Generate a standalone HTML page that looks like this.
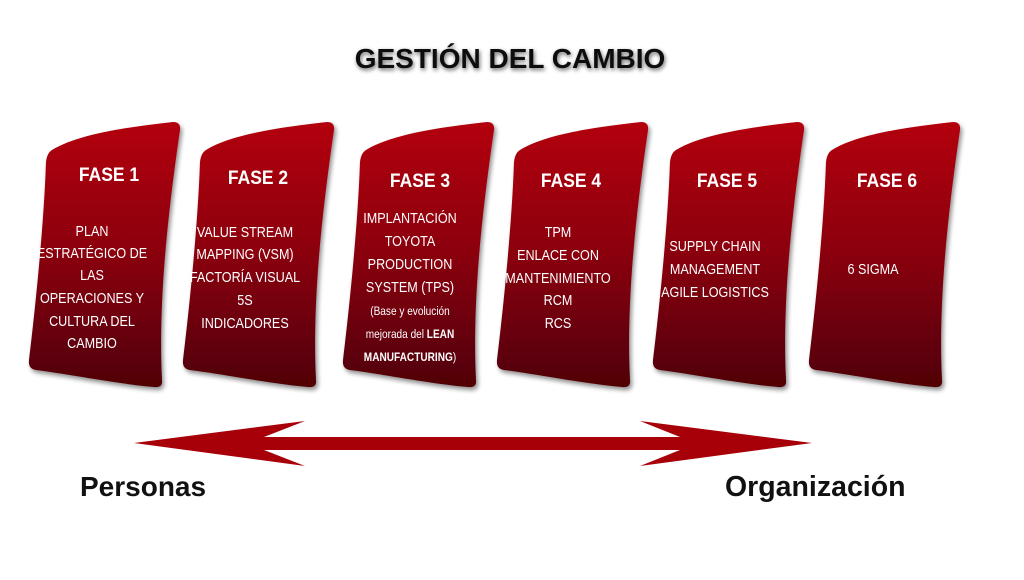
<!DOCTYPE html>
<html><head><meta charset="utf-8"><style>
html,body{margin:0;padding:0;background:#fff;}
svg{display:block;font-family:"Liberation Sans",sans-serif;}
.h{font-weight:bold;font-size:19px;fill:#fff;text-anchor:middle;}
.b{font-size:15px;fill:#fff;text-anchor:middle;}
.s{font-size:12px;fill:#fff;text-anchor:middle;}
</style></head><body>
<svg width="1024" height="580" viewBox="0 0 1024 580">
<defs>
<linearGradient id="g" x1="0" y1="0" x2="0" y2="1">
<stop offset="0" stop-color="#b3000f"/><stop offset="0.5" stop-color="#8a000c"/><stop offset="1" stop-color="#500006"/>
</linearGradient>
<filter id="sh" x="-10%" y="-10%" width="130%" height="130%"><feGaussianBlur in="SourceAlpha" stdDeviation="2.5"/><feOffset dx="2" dy="3"/><feComponentTransfer><feFuncA type="linear" slope="0.45"/></feComponentTransfer><feMerge><feMergeNode/><feMergeNode in="SourceGraphic"/></feMerge></filter>
<filter id="ts"><feGaussianBlur in="SourceAlpha" stdDeviation="2"/><feOffset dx="1" dy="2"/><feComponentTransfer><feFuncA type="linear" slope="0.6"/></feComponentTransfer><feMerge><feMergeNode/><feMergeNode in="SourceGraphic"/></feMerge></filter>
<path id="c" d="M 24,28 C 50,12 100,5 145,0 Q 153,0 152,8 C 140,90 130,180 134,258 Q 135,266 126,265 C 90,262 40,252 8,248 Q 0,247 1,238 C 8,180 16,100 18,40 Q 19,31 24,28 Z"/>
</defs>
<text x="510" y="68" font-size="28" font-weight="bold" text-anchor="middle" fill="#111" filter="url(#ts)">GESTIÓN DEL CAMBIO</text>
<g fill="url(#g)" filter="url(#sh)">
<use href="#c" x="28" y="122"/>
<use href="#c" x="182" y="122"/>
<use href="#c" x="342" y="122"/>
<use href="#c" x="496" y="122"/>
<use href="#c" x="652" y="122"/>
<use href="#c" x="808" y="122"/>
</g>
<g transform="translate(109,0) scale(0.92,1)"><text class="h" x="0" y="181">FASE 1</text></g>
<g transform="translate(92,0) scale(0.84,1)"><text class="b"><tspan x="0" y="236">PLAN</tspan><tspan x="0" y="258">ESTRATÉGICO DE</tspan><tspan x="0" y="280">LAS</tspan><tspan x="0" y="303">OPERACIONES Y</tspan><tspan x="0" y="326">CULTURA DEL</tspan><tspan x="0" y="348">CAMBIO</tspan></text></g>
<g transform="translate(258,0) scale(0.92,1)"><text class="h" x="0" y="184">FASE 2</text></g>
<g transform="translate(245,0) scale(0.84,1)"><text class="b"><tspan x="0" y="237">VALUE STREAM</tspan><tspan x="0" y="259">MAPPING (VSM)</tspan><tspan x="0" y="282">FACTORÍA VISUAL</tspan><tspan x="0" y="305">5S</tspan><tspan x="0" y="328">INDICADORES</tspan></text></g>
<g transform="translate(420,0) scale(0.92,1)"><text class="h" x="0" y="187">FASE 3</text></g>
<g transform="translate(410,0) scale(0.84,1)"><text class="b"><tspan x="0" y="223">IMPLANTACIÓN</tspan><tspan x="0" y="246">TOYOTA</tspan><tspan x="0" y="269">PRODUCTION</tspan><tspan x="0" y="292">SYSTEM (TPS)</tspan></text>
<text class="s"><tspan x="0" y="315">(Base y evolución</tspan><tspan x="0" y="338">mejorada del <tspan font-weight="bold">LEAN</tspan></tspan><tspan x="0" y="361"><tspan font-weight="bold">MANUFACTURING</tspan>)</tspan></text></g>
<g transform="translate(571,0) scale(0.92,1)"><text class="h" x="0" y="187">FASE 4</text></g>
<g transform="translate(558,0) scale(0.84,1)"><text class="b"><tspan x="0" y="237">TPM</tspan><tspan x="0" y="260">ENLACE CON</tspan><tspan x="0" y="283">MANTENIMIENTO</tspan><tspan x="0" y="305">RCM</tspan><tspan x="0" y="328">RCS</tspan></text></g>
<g transform="translate(727,0) scale(0.92,1)"><text class="h" x="0" y="187">FASE 5</text></g>
<g transform="translate(715,0) scale(0.84,1)"><text class="b"><tspan x="0" y="251">SUPPLY CHAIN</tspan><tspan x="0" y="274">MANAGEMENT</tspan><tspan x="0" y="297">AGILE LOGISTICS</tspan></text></g>
<g transform="translate(887,0) scale(0.92,1)"><text class="h" x="0" y="187">FASE 6</text></g>
<g transform="translate(873,0) scale(0.84,1)"><text class="b" x="0" y="274">6 SIGMA</text></g>
<path fill="#a80008" d="M134,443 L305,421 L264,437 L680,437 L640,421 L812,443 L640,466 L680,450 L264,450 L305,466 Z"/>
<text x="80" y="496" font-size="28" font-weight="bold" fill="#111">Personas</text>
<text x="725" y="496" font-size="28.5" font-weight="bold" fill="#111">Organización</text>
</svg>
</body></html>
